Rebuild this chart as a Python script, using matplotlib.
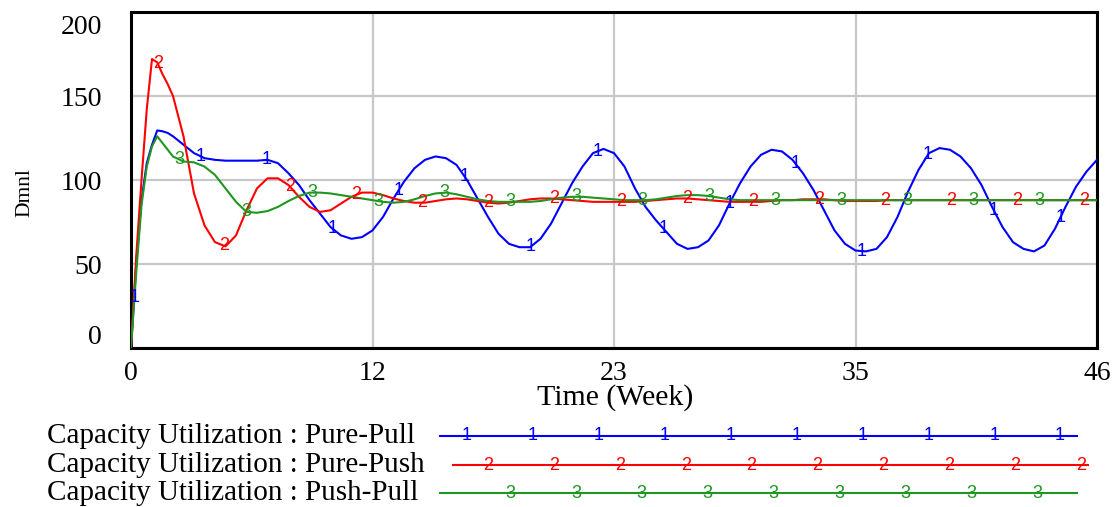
import numpy as np
import matplotlib
matplotlib.use("Agg")
import matplotlib.pyplot as plt
from matplotlib.lines import Line2D
from matplotlib.transforms import ScaledTranslation

# ---- simulation output (Time in weeks) ----
time_wk = [0, 0.25, 0.5, 0.75, 1.0, 1.25, 1.5, 1.75, 2.0,
           2.5, 3.0, 3.5, 4.0, 4.5, 5.0, 5.5, 6.0, 6.5, 7.0, 7.5, 8.0,
           8.5, 9.0, 9.5, 10.0, 10.5, 11.0, 11.5, 12.0, 12.5, 13.0, 13.5, 14.0,
           14.5, 15.0, 15.5, 16.0, 16.5, 17.0, 17.5, 18.0, 18.5, 19.0, 19.5, 20.0,
           20.5, 21.0, 21.5, 22.0, 22.5, 23.0, 23.5, 24.0, 24.5, 25.0, 25.5, 26.0,
           26.5, 27.0, 27.5, 28.0, 28.5, 29.0, 29.5, 30.0, 30.5, 31.0, 31.5, 32.0,
           32.5, 33.0, 33.5, 34.0, 34.5, 35.0, 35.5, 36.0, 36.5, 37.0, 37.5, 38.0,
           38.5, 39.0, 39.5, 40.0, 40.5, 41.0, 41.5, 42.0, 42.5, 43.0, 43.5, 44.0,
           44.5, 45.0, 45.5, 46.0]

pure_pull = [0, 50, 88, 110, 121, 129.5, 129, 128, 126,
             121, 116, 113, 112, 111.5, 111.5, 111.5, 111.5, 112, 110, 104, 97,
             88, 80, 72, 67, 65, 66, 70, 78, 89, 99, 107, 112,
             114, 113, 109, 100, 89, 78, 68, 62, 60, 60, 65, 74,
             86, 98, 108, 116, 118.5, 116, 108, 95, 84, 76, 69, 62,
             59, 60, 64, 73, 86, 98, 108, 115, 118, 117, 112, 104,
             94, 82, 70, 62, 58, 57.5, 59, 66, 78, 93, 106, 116,
             119, 118, 114, 107, 97, 84, 72, 63, 59, 57.5, 61, 71,
             84, 96, 105, 112]

pure_push = [0, 55, 100, 142, 172, 170, 163, 157, 150,
             126, 92, 73, 63, 60.5, 67, 82, 95, 101, 101, 97, 90,
             84, 81, 82, 86, 90, 92.5, 92.5, 91, 89, 87.5, 86.5, 86.5,
             87.5, 88.5, 89, 88.5, 87.5, 86.5, 86, 86.5, 87.5, 88.5, 89, 89,
             88.5, 88, 87.5, 87, 87, 87, 87, 87, 87.5, 88, 88.5, 89,
             89, 88.5, 88, 87.5, 87, 87, 87, 87, 87.5, 88, 88, 88.5,
             88.5, 88.5, 88, 87.5, 87.5, 87.5, 87.5, 88, 88, 88, 88, 88,
             88, 88, 88, 88, 88, 88, 88, 88, 88, 88, 88, 88,
             88, 88, 88, 88]

push_pull = [0, 45, 85, 108, 120, 126, 122, 118, 114,
             111, 110.5, 108, 103, 95, 87, 81, 80.5, 81.5, 84, 87.5, 90.5,
             92.5, 92.5, 92, 91, 90, 89, 88, 87, 86.5, 87, 88.5, 90.5,
             92, 92.5, 91.5, 90, 88.5, 87.5, 87, 87, 87, 87, 87.5, 88.5,
             89.5, 90, 90, 89.5, 89, 88.5, 88, 88, 88, 88.5, 89.5, 90.5,
             91, 91, 90.5, 89.5, 88.5, 88, 88, 88, 88, 88, 88, 88,
             88, 88, 88, 88, 88, 88, 88, 88, 88, 88, 88, 88,
             88, 88, 88, 88, 88, 88, 88, 88, 88, 88, 88, 88,
             88, 88, 88, 88]

series_labels = ["Capacity Utilization : Pure-Pull",
                 "Capacity Utilization : Pure-Push",
                 "Capacity Utilization : Push-Pull"]
series_values = [pure_pull, pure_push, push_pull]
series_ids = ["1", "2", "3"]
series_colors = ["#0000ff", "#ff0000", "#1f961f"]

x_ticks = [0, 11.5, 23, 34.5, 46]
x_tick_labels = ["0", "12", "23", "35", "46"]
y_ticks = [0, 50, 100, 150, 200]
y_tick_labels = ["0", "50", "100", "150", "200"]

W, H = 1119, 507
SERIF = "Liberation Serif"
DIGIT = "Liberation Sans"
DIGIT_SIZE = 13

fig = plt.figure(figsize=(W / 100, H / 100), dpi=100)
fig.patch.set_facecolor("white")
ax = fig.add_axes([131 / W, 1 - 348 / H, (1097 - 131) / W, (348 - 12) / H])

t = np.asarray(time_wk)
marker_step = 3.15
marker_start = [0.15, 1.27, 2.32]

for vals, sid, col, m0 in zip(series_values, series_ids, series_colors, marker_start):
    v = np.asarray(vals, dtype=float)
    ax.plot(t, v, color=col, lw=1.5, zorder=3)
    for tm in np.arange(m0, t[-1] + 1e-9, marker_step):
        ax.text(tm, np.interp(tm, t, v), sid, color=col, fontsize=DIGIT_SIZE,
                family=DIGIT, ha="center", va="center", zorder=4)

ax.set_xlim(0, 46)
ax.set_ylim(0, 200)
ax.set_xticks(x_ticks)
ax.set_xticklabels(x_tick_labels, family=SERIF, fontsize=20)
ax.set_yticks(y_ticks)
ax.set_yticklabels(y_tick_labels, family=SERIF, fontsize=20)
ax.tick_params(length=0)
ax.tick_params(axis="x", pad=9)
ax.tick_params(axis="y", pad=21)

# end labels on the value axis sit just inside the frame
ylabs = ax.get_yticklabels()
ylabs[0].set_transform(ylabs[0].get_transform() + ScaledTranslation(0, 13 / 100, fig.dpi_scale_trans))
ylabs[-1].set_transform(ylabs[-1].get_transform() + ScaledTranslation(0, -12 / 100, fig.dpi_scale_trans))

ax.grid(True, color="#c8c8c8", lw=1.6, zorder=0)
for s in ax.spines.values():
    s.set_linewidth(2.2)
    s.set_color("black")

fig.text(615 / W, 1 - 398 / H, "Time (Week)", family=SERIF, fontsize=21.5,
         ha="center", va="center")
fig.text(25 / W, 1 - 193 / H, "Dmnl", family=SERIF, fontsize=15.5,
         rotation=90, ha="center", va="center")

# legend block under the plot
rows_y = [436, 465, 493]
line_span = [(440, 1077), (453, 1088), (440, 1077)]
mark_first = [467, 488, 510]
mark_count = [10, 10, 9]
mark_gap = 65.9
for lab, sid, col, ry, (x0, x1), mf, mc in zip(series_labels, series_ids, series_colors,
                                               rows_y, line_span, mark_first, mark_count):
    yf = 1 - ry / H
    fig.text(47 / W, yf, lab, family=SERIF, fontsize=21, ha="left", va="center")
    fig.add_artist(Line2D([x0 / W, x1 / W], [yf, yf], color=col, lw=1.5,
                          transform=fig.transFigure))
    for k in range(mc):
        fig.text((mf + k * mark_gap) / W, yf, sid, color=col, fontsize=DIGIT_SIZE,
                 family=DIGIT, ha="center", va="center")

fig.savefig("out.png", dpi=100, facecolor="white")
